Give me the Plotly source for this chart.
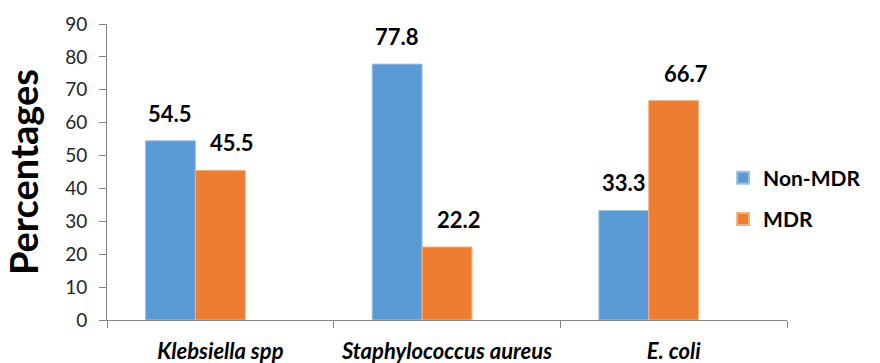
import plotly.graph_objects as go

# Isolate groups and resistance percentages
categories = ["Klebsiella spp", "Staphylococcus aureus", "E. coli"]
non_mdr = [54.5, 77.8, 33.3]
mdr = [45.5, 22.2, 66.7]
y_ticks = [0, 10, 20, 30, 40, 50, 60, 70, 80, 90]

BLUE = "#5B9BD5"
ORANGE = "#ED7D31"
AXIS = "#868686"
FONT = "Lato"

bar_w = 0.22  # three slots per category; the third slot is left empty

fig = go.Figure()
fig.add_trace(go.Bar(
    name="Non-MDR", x=categories, y=non_mdr, marker_color=BLUE,
    marker_line=dict(color="#9CC3E6", width=1),
    width=bar_w, offset=-1.5 * bar_w, legendgroup="a",
))
fig.add_trace(go.Bar(
    name="MDR", x=categories, y=mdr, marker_color=ORANGE,
    marker_line=dict(color="#F4B183", width=1),
    width=bar_w, offset=-0.5 * bar_w, legendgroup="b",
))

# Value labels above each bar
label_font = dict(family=FONT, size=22, color="black", weight="bold")
for i, c in enumerate(categories):
    fig.add_annotation(x=i - bar_w, y=non_mdr[i], text=f"{non_mdr[i]}",
                       showarrow=False, yanchor="bottom", yshift=12,
                       font=label_font)
    fig.add_annotation(x=i, y=mdr[i], text=f"{mdr[i]}",
                       showarrow=False, yanchor="bottom", yshift=12,
                       xshift=12, font=label_font)

fig.update_layout(
    width=880, height=363,
    margin=dict(l=107, r=93, t=24, b=43),
    plot_bgcolor="white", paper_bgcolor="white",
    barmode="overlay",
    showlegend=True,
    legend=dict(
        x=0.906, y=0.41, xanchor="left", yanchor="middle",
        font=dict(family=FONT, size=21, color="black", weight="bold"),
        itemsizing="constant", tracegroupgap=11, bgcolor="rgba(0,0,0,0)",
    ),
    xaxis=dict(
        type="category",
        range=[-0.5, 2.5],
        automargin=False,
        tickangle=0,
        showline=True, linecolor=AXIS, linewidth=1,
        ticks="outside", tickson="boundaries", ticklen=7, tickcolor=AXIS,
        ticklabelstandoff=12,
        tickfont=dict(family=FONT, size=22, color="black", weight="bold",
                      style="italic"),
        showgrid=False, zeroline=False,
    ),
    yaxis=dict(
        range=[0, 90], tickvals=y_ticks,
        automargin=False,
        showline=True, linecolor=AXIS, linewidth=1,
        ticks="outside", ticklen=7, tickcolor=AXIS,
        ticklabelstandoff=8,
        tickfont=dict(family=FONT, size=19, color="#262626"),
        showgrid=False, zeroline=False,
        title=dict(text="Percentages", standoff=14,
                   font=dict(family=FONT, size=38, color="black",
                             weight="bold")),
    ),
)

fig.write_html("out.html")
